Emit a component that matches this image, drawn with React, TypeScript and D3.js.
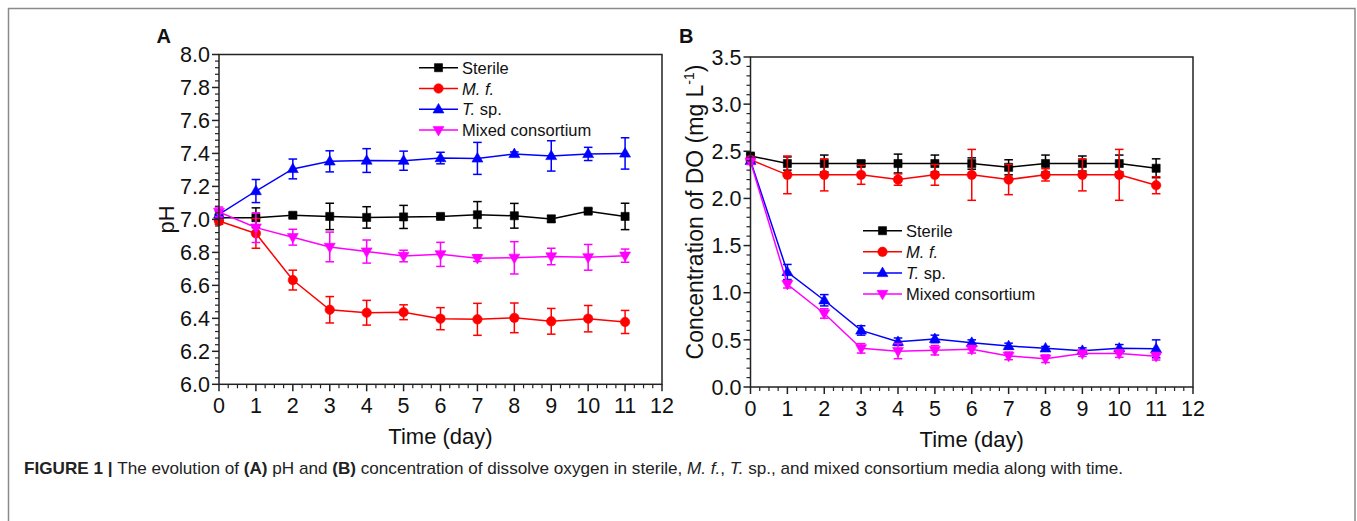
import React from "react";
import * as d3 from "d3";

// ---------- Data ----------
const days = [0, 1, 2, 3, 4, 5, 6, 7, 8, 9, 10, 11];
const xTickValues = [0, 1, 2, 3, 4, 5, 6, 7, 8, 9, 10, 11, 12];

const seriesNames = ["Sterile", "M. f.", "T. sp.", "Mixed consortium"];
const seriesColors = ["#000000", "#ff0000", "#0000ff", "#ff00ff"];
const seriesMarkers = ["square", "circle", "up", "down"];

// Panel A: pH
const phSterile = [7.01, 7.01, 7.025, 7.018, 7.012, 7.015, 7.018, 7.028, 7.022, 7.003, 7.05, 7.018];
const phSterileErr = [0.02, 0.06, 0.015, 0.08, 0.065, 0.07, 0.012, 0.08, 0.075, 0.02, 0.015, 0.08];
const phMf = [6.99, 6.915, 6.632, 6.452, 6.434, 6.437, 6.398, 6.394, 6.403, 6.382, 6.398, 6.378];
const phMfErr = [0.02, 0.09, 0.06, 0.08, 0.075, 0.045, 0.067, 0.097, 0.09, 0.078, 0.08, 0.07];
const phTsp = [7.03, 7.172, 7.306, 7.352, 7.357, 7.356, 7.372, 7.37, 7.397, 7.385, 7.397, 7.4];
const phTspErr = [0.02, 0.07, 0.06, 0.064, 0.072, 0.058, 0.035, 0.097, 0.012, 0.092, 0.04, 0.095];
const phMix = [7.045, 6.95, 6.892, 6.833, 6.805, 6.778, 6.788, 6.765, 6.767, 6.775, 6.77, 6.78];
const phMixErr = [0.03, 0.09, 0.048, 0.09, 0.07, 0.035, 0.073, 0.02, 0.098, 0.05, 0.078, 0.04];
const phTicks = [6.0, 6.2, 6.4, 6.6, 6.8, 7.0, 7.2, 7.4, 7.6, 7.8, 8.0];

// Panel B: dissolved oxygen
const doSterile = [2.45, 2.37, 2.37, 2.37, 2.37, 2.37, 2.37, 2.33, 2.37, 2.37, 2.37, 2.32];
const doSterileErr = [0.02, 0.07, 0.09, 0.03, 0.1, 0.09, 0.06, 0.08, 0.09, 0.08, 0.09, 0.1];
const doMf = [2.41, 2.25, 2.25, 2.25, 2.2, 2.25, 2.25, 2.2, 2.25, 2.25, 2.25, 2.14];
const doMfErr = [0.03, 0.2, 0.17, 0.1, 0.06, 0.11, 0.27, 0.16, 0.065, 0.17, 0.27, 0.09];
const doTsp = [2.4, 1.22, 0.92, 0.6, 0.48, 0.51, 0.47, 0.435, 0.41, 0.385, 0.41, 0.405];
const doTspErr = [0.03, 0.08, 0.06, 0.05, 0.04, 0.04, 0.03, 0.03, 0.02, 0.03, 0.04, 0.095];
const doMix = [2.39, 1.09, 0.78, 0.41, 0.38, 0.39, 0.4, 0.33, 0.3, 0.355, 0.355, 0.326];
const doMixErr = [0.03, 0.04, 0.05, 0.05, 0.08, 0.05, 0.04, 0.04, 0.04, 0.03, 0.04, 0.04];
const doTicks = [0.0, 0.5, 1.0, 1.5, 2.0, 2.5, 3.0, 3.5];

// ---------- Drawing ----------
const FONT = "'Liberation Sans', Arial, Helvetica, sans-serif";

type Cfg = {
  x0: number;
  x1: number;
  yTop: number;
  yBot: number;
  yTicks: number[];
  yMinorPerMajor: number;
  values: number[][];
  errors: number[][];
  legendX: number;
  legendY: number;
  legendDy: number;
  letter: string;
  letterX: number;
  yLabel: React.ReactNode;
};

function markerPath(kind: string): string {
  if (kind === "square") return d3.symbol(d3.symbolSquare, 66)() as string;
  if (kind === "circle") return d3.symbol(d3.symbolCircle, 70)() as string;
  return d3.symbol(d3.symbolTriangle, 52)() as string;
}

function Marker({ kind, x, y, color }: { kind: string; x: number; y: number; color: string }) {
  const rot = kind === "down" ? 180 : 0;
  const dy = kind === "up" ? 0.5 : kind === "down" ? -0.5 : 0;
  return (
    <path
      d={markerPath(kind)}
      transform={`translate(${x},${y + dy}) rotate(${rot})`}
      fill={color}
      stroke={color}
      strokeWidth={0.6}
    />
  );
}

function Panel({ cfg }: { cfg: Cfg }) {
  const x = d3.scaleLinear().domain([0, 12]).range([cfg.x0, cfg.x1]);
  const yMin = cfg.yTicks[0];
  const yMax = cfg.yTicks[cfg.yTicks.length - 1];
  const y = d3.scaleLinear().domain([yMin, yMax]).range([cfg.yBot, cfg.yTop]);
  const majorStep = cfg.yTicks[1] - cfg.yTicks[0];
  const yMinor: number[] = [];
  for (let i = 0; i < cfg.yTicks.length - 1; i++) {
    for (let k = 1; k <= cfg.yMinorPerMajor; k++) {
      yMinor.push(cfg.yTicks[i] + (majorStep * k) / (cfg.yMinorPerMajor + 1));
    }
  }
  const xMinor: number[] = [];
  for (let i = 0; i < xTickValues.length - 1; i++) {
    for (let k = 1; k <= 3; k++) xMinor.push(xTickValues[i] + k / 4);
  }
  const line = d3
    .line<number>()
    .x((_, i) => x(days[i]))
    .y((d) => y(d));
  const cap = 4.3;
  const tickFs = 21.5;

  return (
    <g fontFamily={FONT}>
      {/* series */}
      {cfg.values.map((vals, si) => (
        <g key={si}>
          <path d={line(vals) as string} fill="none" stroke={seriesColors[si]} strokeWidth={1.5} />
          {vals.map((v, i) => {
            const e = cfg.errors[si][i];
            const cx = x(days[i]);
            const yt = y(v + e);
            const yb = y(v - e);
            return (
              <g key={i} stroke={seriesColors[si]} strokeWidth={1.5}>
                <line x1={cx} x2={cx} y1={yt} y2={yb} />
                <line x1={cx - cap} x2={cx + cap} y1={yt} y2={yt} />
                <line x1={cx - cap} x2={cx + cap} y1={yb} y2={yb} />
              </g>
            );
          })}
          {vals.map((v, i) => (
            <Marker key={i} kind={seriesMarkers[si]} x={x(days[i])} y={y(v)} color={seriesColors[si]} />
          ))}
        </g>
      ))}

      {/* frame */}
      <rect
        x={cfg.x0}
        y={cfg.yTop}
        width={cfg.x1 - cfg.x0}
        height={cfg.yBot - cfg.yTop}
        fill="none"
        stroke="#222"
        strokeWidth={1.5}
      />

      {/* y ticks */}
      {cfg.yTicks.map((t) => (
        <g key={t}>
          <line x1={cfg.x0 - 7} x2={cfg.x0} y1={y(t)} y2={y(t)} stroke="#222" strokeWidth={1.5} />
          <text
            x={cfg.x0 - 9}
            y={y(t) + tickFs * 0.358}
            textAnchor="end"
            fontSize={tickFs}
            fill="#111"
          >
            {t.toFixed(1)}
          </text>
        </g>
      ))}
      {yMinor.map((t, i) => (
        <line key={i} x1={cfg.x0 - 4} x2={cfg.x0} y1={y(t)} y2={y(t)} stroke="#222" strokeWidth={1.2} />
      ))}

      {/* x ticks */}
      {xTickValues.map((t) => (
        <g key={t}>
          <line x1={x(t)} x2={x(t)} y1={cfg.yBot} y2={cfg.yBot + 7} stroke="#222" strokeWidth={1.5} />
          <text x={x(t)} y={cfg.yBot + 29} textAnchor="middle" fontSize={tickFs} fill="#111">
            {t}
          </text>
        </g>
      ))}
      {xMinor.map((t, i) => (
        <line key={i} x1={x(t)} x2={x(t)} y1={cfg.yBot} y2={cfg.yBot + 4} stroke="#222" strokeWidth={1.2} />
      ))}

      {/* x title */}
      <text x={(cfg.x0 + cfg.x1) / 2} y={cfg.yBot + 60} textAnchor="middle" fontSize={22} fill="#111">
        Time (day)
      </text>

      {cfg.yLabel}

      {/* panel letter */}
      <text x={cfg.letterX} y={42.7} fontSize={20} fontWeight="bold" fill="#111">
        {cfg.letter}
      </text>

      {/* legend */}
      {seriesNames.map((name, si) => {
        const ly = cfg.legendY + si * cfg.legendDy;
        return (
          <g key={name}>
            <line
              x1={cfg.legendX}
              x2={cfg.legendX + 39}
              y1={ly}
              y2={ly}
              stroke={seriesColors[si]}
              strokeWidth={1.5}
            />
            <Marker kind={seriesMarkers[si]} x={cfg.legendX + 19.5} y={ly} color={seriesColors[si]} />
            <text x={cfg.legendX + 43} y={ly + 6} fontSize={16.5} fill="#111">
              {si === 1 ? (
                <tspan fontStyle="italic">M. f.</tspan>
              ) : si === 2 ? (
                <>
                  <tspan fontStyle="italic">T.</tspan>
                  <tspan> sp.</tspan>
                </>
              ) : (
                name
              )}
            </text>
          </g>
        );
      })}
    </g>
  );
}

export default function App() {
  const cfgA: Cfg = {
    x0: 219,
    x1: 662,
    yTop: 54.5,
    yBot: 384.3,
    yTicks: phTicks,
    yMinorPerMajor: 4,
    values: [phSterile, phMf, phTsp, phMix],
    errors: [phSterileErr, phMfErr, phTspErr, phMixErr],
    legendX: 419,
    legendY: 67.7,
    legendDy: 20.8,
    letter: "A",
    letterX: 156.5,
    yLabel: (
      <text
        transform={`translate(174,${(54.5 + 384.3) / 2}) rotate(-90)`}
        textAnchor="middle"
        fontSize={22}
        fill="#111"
      >
        pH
      </text>
    ),
  };
  const cfgB: Cfg = {
    x0: 750.5,
    x1: 1193,
    yTop: 57,
    yBot: 387,
    yTicks: doTicks,
    yMinorPerMajor: 4,
    values: [doSterile, doMf, doTsp, doMix],
    errors: [doSterileErr, doMfErr, doTspErr, doMixErr],
    legendX: 863,
    legendY: 230.7,
    legendDy: 21.1,
    letter: "B",
    letterX: 679,
    yLabel: (
      <text
        transform={`translate(703,212) rotate(-90)`}
        textAnchor="middle"
        fontSize={23}
        fill="#111"
      >
        Concentration of DO (mg L
        <tspan fontSize={14} dy={-9}>
          -1
        </tspan>
        <tspan dy={9}>)</tspan>
      </text>
    ),
  };

  return (
    <svg
      width={1357}
      height={521}
      style={{ position: "absolute", left: 0, top: 0, background: "#fff" }}
      fontFamily={FONT}
    >
      <rect x={0} y={0} width={1357} height={521} fill="#fff" />
      <rect x={8.5} y={8.5} width={1346.5} height={600} fill="none" stroke="#8a8a8a" strokeWidth={1.5} />
      <Panel cfg={cfgA} />
      <Panel cfg={cfgB} />
      <text x={24} y={474} fontSize={17} fill="#222" textLength={1099} lengthAdjust="spacingAndGlyphs">
        <tspan fontWeight="bold">FIGURE 1 | </tspan>
        <tspan>The evolution of </tspan>
        <tspan fontWeight="bold">(A)</tspan>
        <tspan> pH and </tspan>
        <tspan fontWeight="bold">(B)</tspan>
        <tspan> concentration of dissolve oxygen in sterile, </tspan>
        <tspan fontStyle="italic">M. f.</tspan>
        <tspan>, </tspan>
        <tspan fontStyle="italic">T.</tspan>
        <tspan> sp., and mixed consortium media along with time.</tspan>
      </text>
    </svg>
  );
}
